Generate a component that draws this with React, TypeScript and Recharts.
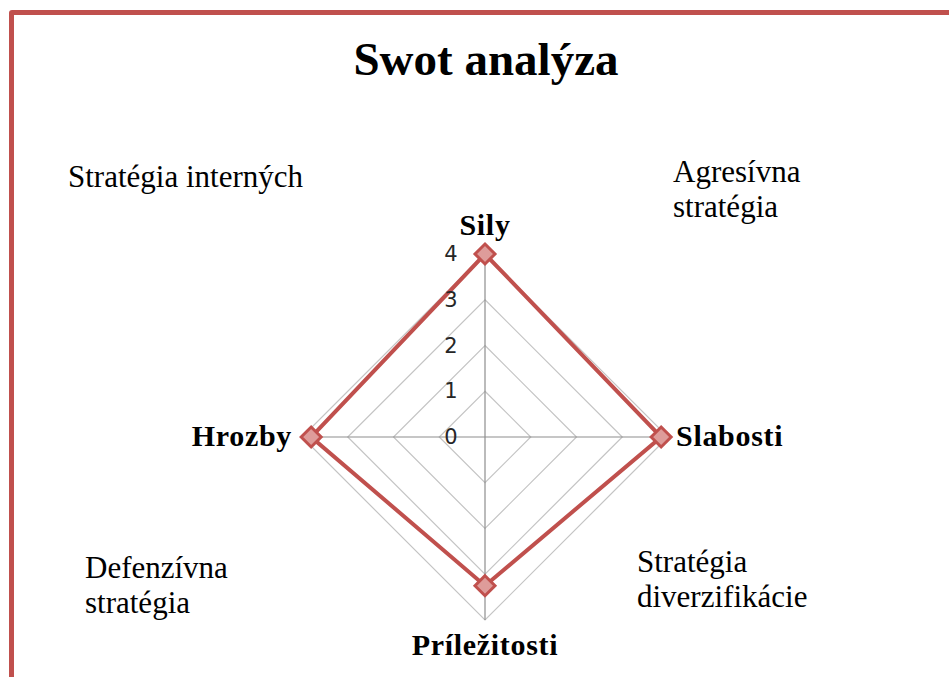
import React from 'react';
import {
  RadarChart,
  PolarGrid,
  PolarAngleAxis,
  PolarRadiusAxis,
  Radar,
} from 'recharts';

const TITLE = 'Swot analýza';
const CATEGORIES = ['Sily', 'Slabosti', 'Príležitosti', 'Hrozby'];
const VALUES = [4, 3.85, 3.25, 3.8];
const RADIUS_DOMAIN = [0, 4];
const NOTE_TOP_LEFT = ['Stratégia interných'];
const NOTE_TOP_RIGHT = ['Agresívna', 'stratégia'];
const NOTE_BOTTOM_RIGHT = ['Stratégia', 'diverzifikácie'];
const NOTE_BOTTOM_LEFT = ['Defenzívna', 'stratégia'];

const data = CATEGORIES.map((name, i) => ({ name, value: VALUES[i] }));

const RED = '#C0504D';
const SERIF = '"Liberation Serif", "Times New Roman", serif';

const AngleTick = (props: any) => {
  const { x, y, payload, textAnchor } = props;
  const a = (payload.coordinate * Math.PI) / 180;
  let tx = x;
  let ty = y + 9;
  if (textAnchor === 'middle') {
    ty = Math.sin(a) > 0 ? y - 11 : y + 27;
  } else if (textAnchor === 'end') {
    tx = x - 2;
  }
  return (
    <text
      x={tx}
      y={ty}
      textAnchor={textAnchor}
      fontFamily={SERIF}
      fontWeight="bold"
      fontSize={30}
      letterSpacing={0.7}
      fill="#000"
    >
      {payload.value}
    </text>
  );
};

const RadiusTick = (props: any) => {
  const { x, y, payload } = props;
  return (
    <text
      x={x - 34}
      y={y}
      textAnchor="middle"
      dominantBaseline="central"
      fontFamily='"DejaVu Sans", sans-serif'
      fontSize={21}
      fill="#262626"
    >
      {payload.value}
    </text>
  );
};

const Diamond = (props: any) => {
  const { cx, cy } = props;
  const r = 10;
  return (
    <polygon
      points={`${cx},${cy - r} ${cx + r},${cy} ${cx},${cy + r} ${cx - r},${cy}`}
      fill="#DE9C9A"
      stroke={RED}
      strokeWidth={3}
    />
  );
};

const Note = ({ lines, left, top }: { lines: string[]; left: number; top: number }) => (
  <div
    style={{
      position: 'absolute',
      left,
      top,
      fontFamily: SERIF,
      fontSize: 31,
      lineHeight: '35px',
      color: '#000',
      whiteSpace: 'nowrap',
    }}
  >
    {lines.map((l) => (
      <div key={l}>{l}</div>
    ))}
  </div>
);

export default function App() {
  return (
    <div
      style={{
        position: 'absolute',
        left: 0,
        top: 0,
        width: 949,
        height: 677,
        overflow: 'hidden',
        background: '#fff',
      }}
    >
      <div
        style={{
          position: 'absolute',
          left: 9,
          top: 10,
          width: 1000,
          height: 800,
          border: `5px solid ${RED}`,
          borderRadius: 3,
        }}
      />
      <div
        style={{
          position: 'absolute',
          left: 0,
          top: 36,
          width: 972,
          textAlign: 'center',
          fontFamily: SERIF,
          fontWeight: 'bold',
          fontSize: 47,
          lineHeight: '47px',
        }}
      >
        {TITLE}
      </div>
      <Note lines={NOTE_TOP_LEFT} left={68} top={159} />
      <Note lines={NOTE_TOP_RIGHT} left={673} top={154} />
      <Note lines={NOTE_BOTTOM_RIGHT} left={637} top={544} />
      <Note lines={NOTE_BOTTOM_LEFT} left={85} top={550} />
      <div style={{ position: 'absolute', left: 0, top: 0 }}>
        <RadarChart
          width={949}
          height={677}
          data={data}
          cx={485}
          cy={437}
          outerRadius={183}
          margin={{ top: 0, right: 0, bottom: 0, left: 0 }}
        >
          <PolarGrid gridType="polygon" radialLines={false} stroke="#C4C4C4" strokeWidth={1.2} />
          <PolarGrid gridType="polygon" polarRadius={[]} stroke="#8E8E8E" strokeWidth={1.2} />
          <PolarAngleAxis
            dataKey="name"
            tick={AngleTick}
            axisLine={false}
            tickLine={false}
          />
          <PolarRadiusAxis
            angle={90}
            domain={RADIUS_DOMAIN}
            tickCount={5}
            axisLine={false}
            tickLine={false}
            tick={RadiusTick}
          />
          <Radar
            dataKey="value"
            stroke={RED}
            strokeWidth={4}
            fill="none"
            fillOpacity={0}
            dot={Diamond}
            isAnimationActive={false}
          />
        </RadarChart>
      </div>
    </div>
  );
}
